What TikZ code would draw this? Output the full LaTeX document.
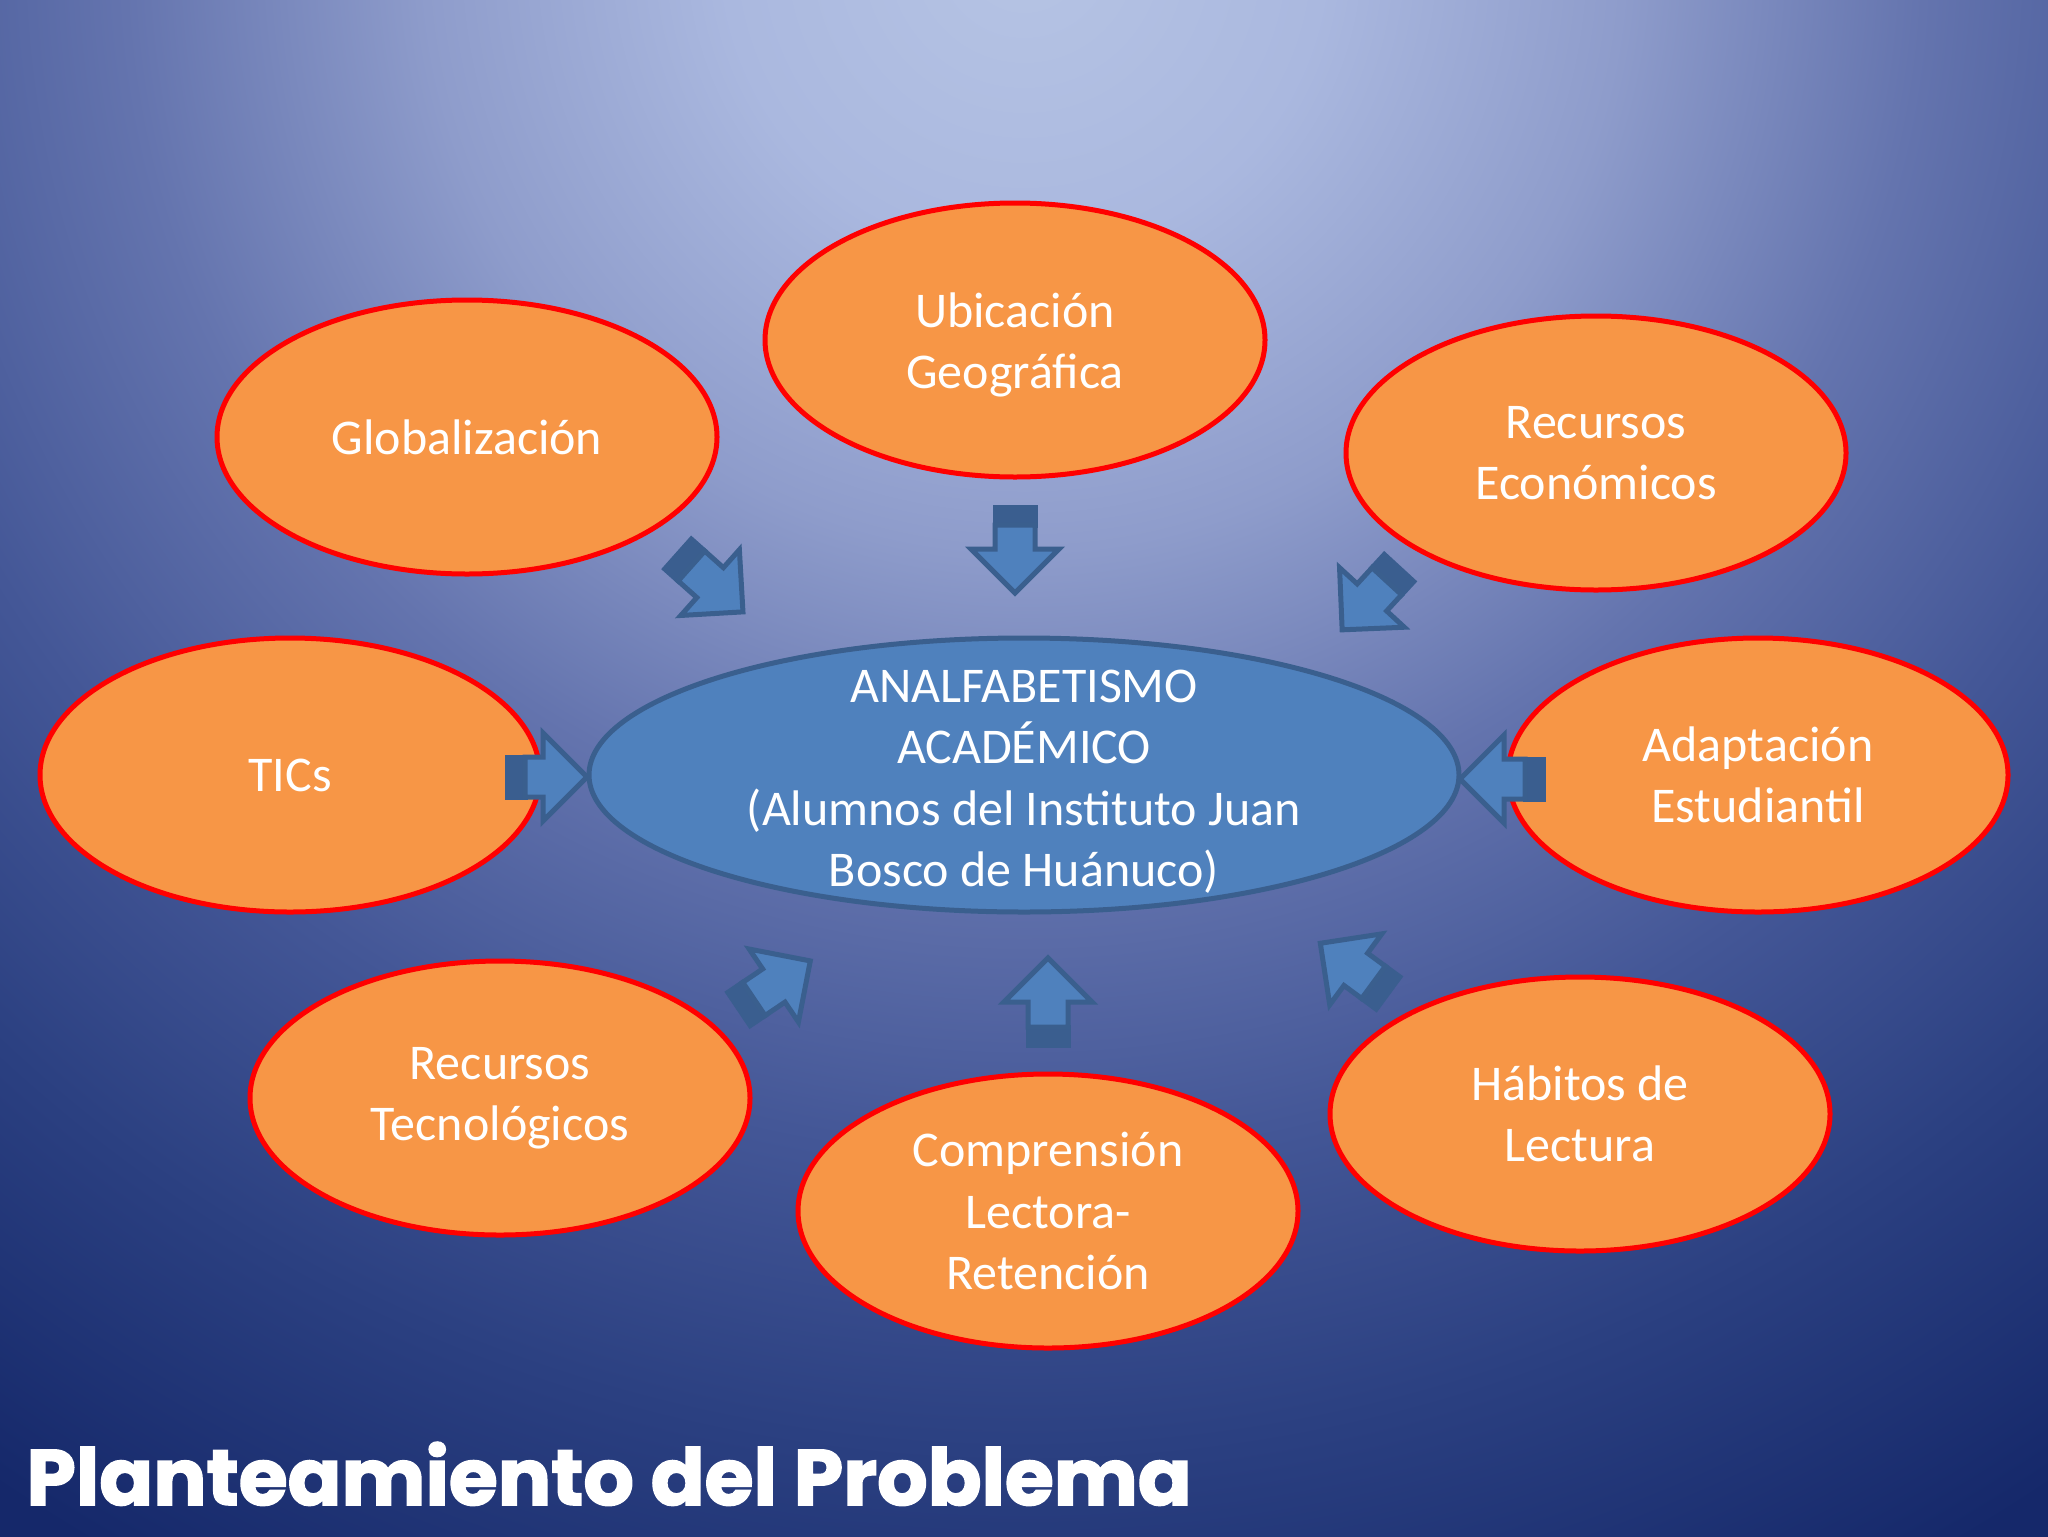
\documentclass[tikz,border=0pt]{standalone}
\usepackage{fontspec}
\setmainfont{Carlito}
\newfontfamily\titlefont{Poppins}[BoldFeatures={FakeBold=2}]
\usetikzlibrary{shapes.geometric}
\definecolor{bgA}{HTML}{B6C4E4}
\definecolor{bgB}{HTML}{AAB8DF}
\definecolor{bgC}{HTML}{8E9CCB}
\definecolor{bgD}{HTML}{6474AE}
\definecolor{bgE}{HTML}{445797}
\definecolor{bgF}{HTML}{2B4081}
\definecolor{bgG}{HTML}{15286A}
\definecolor{orfill}{HTML}{F79646}
\definecolor{redline}{HTML}{FF0000}
\definecolor{blfill}{HTML}{4F81BD}
\definecolor{blline}{HTML}{3A5F8E}
\definecolor{bldark}{HTML}{3A5E8F}
\pgfdeclareradialshading{bgshade}{\pgfpoint{0bp}{0bp}}{%
color(0bp)=(bgA); color(3.75bp)=(bgB); color(7.5bp)=(bgC); color(11.25bp)=(bgD);
color(15bp)=(bgE); color(18.75bp)=(bgF); color(23.1bp)=(bgG); color(25bp)=(bgG); color(50bp)=(bgG)}
\newcommand\blockarr[3]{%
 \begin{scope}[shift={#1}, rotate=#2]
  \filldraw[arrdark] (0,-20) rectangle (18,20);
  \draw[arrface] (18,-20) -- (#3-44,-20) -- (#3-44,-44) -- (#3,0) -- (#3-44,44) -- (#3-44,20) -- (18,20) -- cycle;
 \end{scope}}
\tikzset{
  oval/.style={ellipse, fill=orfill, draw=redline, line width=2.5pt, minimum width=250pt, minimum height=137pt, inner sep=0pt, text=white, align=center, font=\fontsize{25}{30.7}\selectfont},
  mainoval/.style={ellipse, fill=blfill, draw=blline, line width=2.5pt, minimum width=435pt, minimum height=137pt, inner sep=0pt},
  ovtext/.style={inner sep=0pt, text=white, align=center, font=\fontsize{25}{30.7}\selectfont},
  arrdark/.style={fill=bldark, draw=bldark, line width=2.5pt, line join=miter},
  arrface/.style={fill=blfill, draw=blline, line width=2.5pt, line join=miter},
}
\begin{document}
\begin{tikzpicture}[x=0.5pt, y=-0.5pt]
\useasboundingbox (0,0) rectangle (2048,1536);
\begin{scope}
 \clip (0,0) rectangle (2048,1536);
 \fill[bgG] (0,0) rectangle (2048,1536);
 \shade[shading=bgshade] (1024,-50) circle[radius=2000];
\end{scope}
\node[mainoval] (central) at (1024,775) {};
\node[ovtext] (centraltext) at ([yshift=-3.3pt]central.center) {ANALFABETISMO\\ACADÉMICO\\(Alumnos del Instituto Juan\\Bosco de Huánuco)};
\node[oval] (ubic) at (1015,340) {};
\node[ovtext] (ubictext) at ([yshift=-2.6pt]ubic.center) {Ubicación\\Geográfica};
\node[oval] (glob) at (467,437) {Globalización};
\node[oval] (reco) at (1596,453) {Recursos\\Económicos};
\node[oval] (tics) at (290,775) {TICs};
\node[oval] (adap) at (1758,775) {Adaptación\\Estudiantil};
\node[oval] (rtec) at (500,1098) {Recursos\\Tecnológicos};
\node[oval] (comp) at (1048,1211) {Comprensión\\Lectora-\\Retención};
\node[oval] (habi) at (1580,1114) {Hábitos de\\Lectura};
\coordinate (t1) at (1015,507);
\coordinate (t2) at (678,554);
\coordinate (t3) at (1399,568);
\coordinate (t4) at (507,777);
\coordinate (t5) at (1543,779);
\coordinate (t6) at (739,1009);
\coordinate (t7) at (1048,1045);
\coordinate (t8) at (1388,993);
\blockarr{(t1)}{-90}{86}
\blockarr{(t2)}{-41.7}{87}
\blockarr{(t3)}{-132.6}{84}
\blockarr{(t4)}{0}{80}
\blockarr{(t5)}{180}{83}
\blockarr{(t6)}{34}{86}
\blockarr{(t7)}{90}{87}
\blockarr{(t8)}{143.7}{84}
\node[anchor=base west, inner sep=0pt, text=white] (title) at (26,1505) {\resizebox{582.5pt}{31.5pt}{\titlefont\bfseries Planteamiento del Problema}};
\end{tikzpicture}
\end{document}
